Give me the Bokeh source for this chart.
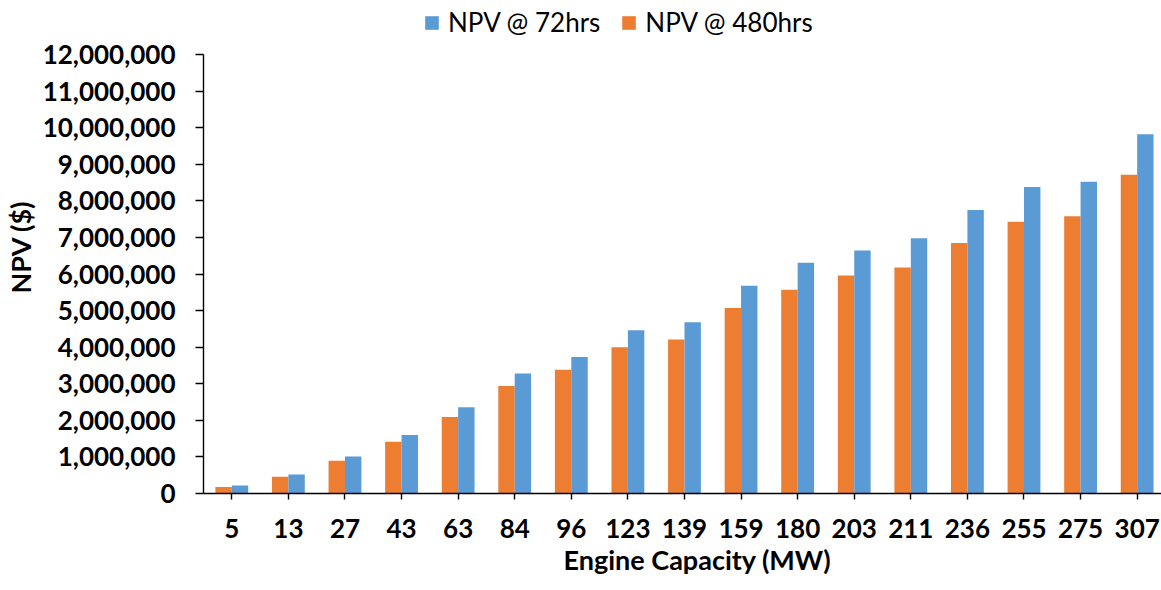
from bokeh.plotting import figure
from bokeh.models import (Range1d, FixedTicker, NumeralTickFormatter, Legend, LegendItem,
                          ColumnDataSource, Title)
from bokeh.transform import dodge
from bokeh.embed import file_html
from bokeh.resources import INLINE

categories = ["5", "13", "27", "43", "63", "84", "96", "123", "139", "159",
              "180", "203", "211", "236", "255", "275", "307"]
npv_72hrs = [220000, 520000, 1010000, 1600000, 2360000, 3280000, 3730000, 4460000,
             4680000, 5680000, 6310000, 6640000, 6980000, 7750000, 8380000, 8520000, 9820000]
npv_480hrs = [180000, 460000, 895000, 1415000, 2090000, 2940000, 3380000, 4000000,
              4210000, 5070000, 5570000, 5960000, 6180000, 6850000, 7430000, 7580000, 8710000]
y_ticks = list(range(0, 12000001, 1000000))

BLUE = "#5B9BD5"
ORANGE = "#ED7D31"
FONT = "Lato"

Y_MAX = 12000000
# frame reaches the top of the page so the legend can sit above the axis top
Y_END = Y_MAX * 493 / 439

src = ColumnDataSource(dict(x=list(range(len(categories))), a=npv_72hrs, b=npv_480hrs))

p = figure(width=1161, height=590, output_backend="svg", toolbar_location=None,
           x_range=Range1d(-0.5, 16.43), y_range=Range1d(0, Y_END),
           min_border_left=198, min_border_right=0, min_border_top=0, min_border_bottom=97)
p.outline_line_color = None
p.xgrid.visible = False
p.ygrid.visible = False
p.background_fill_color = "white"
p.border_fill_color = "white"

r480 = p.vbar(x=dodge("x", -0.145, range=p.x_range), top="b", width=0.29, source=src,
              fill_color=ORANGE, line_color=None)
r72 = p.vbar(x=dodge("x", 0.145, range=p.x_range), top="a", width=0.29, source=src,
             fill_color=BLUE, line_color=None)

# x axis
xa = p.xaxis[0]
xa.ticker = FixedTicker(ticks=list(range(len(categories))))
xa.major_label_overrides = {i: c for i, c in enumerate(categories)}
xa.minor_tick_line_color = None
xa.major_tick_in = 0
xa.major_tick_out = 6
xa.major_label_standoff = 19

# y axis
ya = p.yaxis[0]
ya.ticker = FixedTicker(ticks=y_ticks)
ya.bounds = (0, Y_MAX)
ya.formatter = NumeralTickFormatter(format="0,0")
ya.minor_tick_line_color = None
ya.major_tick_in = 0
ya.major_tick_out = 8
ya.major_label_standoff = 20
ya.axis_label = "NPV ($)"
ya.axis_label_standoff = 3

for ax in (xa, ya):
    ax.axis_line_color = "black"
    ax.axis_line_width = 1.4
    ax.major_tick_line_color = "black"
    ax.major_tick_line_width = 1.4
    ax.major_label_text_font = FONT
    ax.major_label_text_font_style = "bold"
    ax.major_label_text_font_size = "26px"
    ax.major_label_text_color = "black"
    ax.axis_label_text_font = FONT
    ax.axis_label_text_font_style = "bold"
    ax.axis_label_text_font_size = "27px"
    ax.axis_label_text_color = "black"

# x axis title, placed as in the reference (slightly right of frame centre)
xtitle = Title(text="Engine Capacity (MW)", align="left", offset=360, standoff=0,
               text_font=FONT, text_font_style="bold", text_font_size="27px",
               text_color="black")
p.add_layout(xtitle, "below")

legend = Legend(items=[LegendItem(label="NPV @ 72hrs", renderers=[r72]),
                       LegendItem(label="NPV @ 480hrs", renderers=[r480])],
                location=(220, 455), orientation="horizontal",
                glyph_width=17, glyph_height=17, label_standoff=8, spacing=20,
                padding=0, margin=0, border_line_color=None, background_fill_alpha=0,
                label_text_font=FONT, label_text_font_size="26px", label_text_color="black")
p.add_layout(legend, "center")

open("out.html", "w").write(file_html(p, INLINE))
